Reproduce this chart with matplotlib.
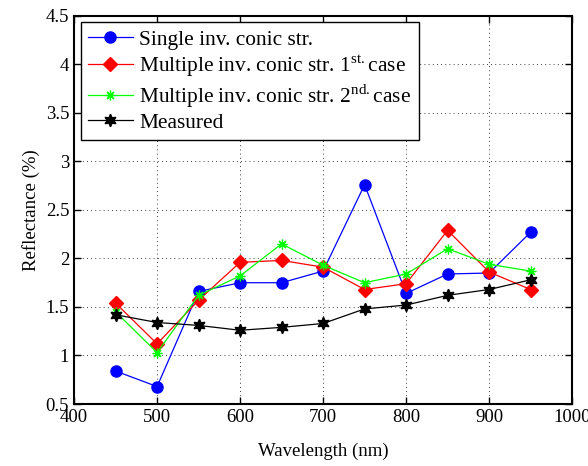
import matplotlib
matplotlib.use('Agg')
import matplotlib.pyplot as plt

plt.rcParams['font.family'] = 'Liberation Serif'
plt.rcParams['mathtext.fontset'] = 'custom'
plt.rcParams['mathtext.rm'] = 'Liberation Serif'

# wavelength (nm)
wl = [450, 500, 550, 600, 650, 700, 750, 800, 850, 900, 950]

# reflectance (%)
single = [0.84, 0.68, 1.66, 1.75, 1.75, 1.87, 2.76, 1.64, 1.84, 1.85, 2.27]
mult1 = [1.54, 1.12, 1.57, 1.96, 1.98, 1.91, 1.68, 1.74, 2.29, 1.86, 1.68]
mult2 = [1.45, 1.03, 1.62, 1.82, 2.15, 1.93, 1.75, 1.84, 2.10, 1.94, 1.87]
measured = [1.42, 1.34, 1.31, 1.26, 1.29, 1.33, 1.48, 1.52, 1.62, 1.68, 1.78]

labels = ['Single inv. conic str.',
          r'Multiple inv. conic str. 1$^{\mathrm{st.}}$case',
          r'Multiple inv. conic str. 2$^{\mathrm{nd.}}$case',
          'Measured']

fig = plt.figure(figsize=(5.88, 4.66), dpi=100)
ax = fig.add_axes([0.126, 0.133, 0.847, 0.833])

ax.plot(wl, single, color='blue', marker='o', ms=8, lw=0.9, label=labels[0])
ax.plot(wl, mult1, color='red', marker='D', ms=7, lw=0.9, label=labels[1])
ax.plot(wl, mult2, color='#00ff00', marker=(8, 2, 0), ms=7, mew=0.9, lw=0.9, label=labels[2])
ax.plot(wl, measured, color='black', marker=(6, 1, 0), ms=9, lw=0.9, label=labels[3])

ax.set_xlim(400, 1000)
ax.set_ylim(0.5, 4.5)
ax.set_xticks([400, 500, 600, 700, 800, 900, 1000])
ax.set_yticks([0.5, 1, 1.5, 2, 2.5, 3, 3.5, 4, 4.5])
ax.set_yticklabels(['0.5', '1', '1.5', '2', '2.5', '3', '3.5', '4', '4.5'])
ax.tick_params(direction='in', top=True, right=True, labelsize=13.5, length=5, width=1)
ax.grid(True, color='black', linestyle=(0, (1, 4)), linewidth=0.6)
for s in ax.spines.values():
    s.set_linewidth(1.5)

ax.set_xlabel('Wavelength (nm)', fontsize=13.5, labelpad=12)
ax.set_ylabel('Reflectance (%)', fontsize=13.5)

leg = ax.legend(loc='upper left', fontsize=15.4, fancybox=False, framealpha=1,
                edgecolor='black', handlelength=2.1, borderaxespad=0.3,
                labelspacing=0.15, borderpad=0.35, handletextpad=0.3)
leg.get_frame().set_linewidth(1.0)

fig.savefig('out.png', dpi=100)
